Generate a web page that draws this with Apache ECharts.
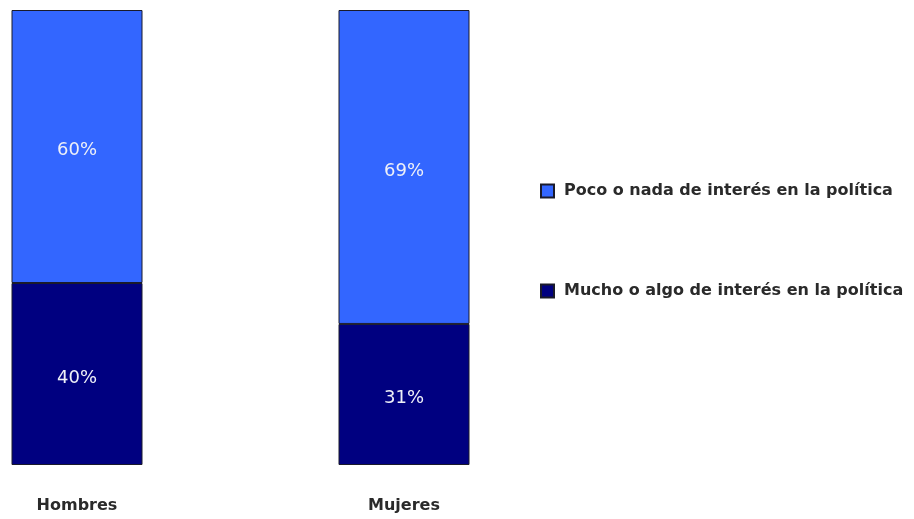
<!DOCTYPE html>
<html><head><meta charset="utf-8">
<script src="https://cdn.jsdelivr.net/npm/echarts@6/dist/echarts.min.js"></script>
<style>html,body{margin:0;padding:0;background:#fff}#c{width:914px;height:519px}</style>
</head><body><div id="c"></div>
<script>
const categories = ["Hombres", "Mujeres"];
const muchoValues = [40, 31];
const pocoValues = [60, 69];
const seriesNames = ["Mucho o algo de interés en la política", "Poco o nada de interés en la política"];
const legendOrder = [seriesNames[1], seriesNames[0]];

const chart = echarts.init(document.getElementById('c'));
const FONT = "DejaVu Sans";
const lbl = {show: true, position: 'inside', color: '#eef0f8', fontSize: 18, fontFamily: FONT, fontWeight: 'normal', formatter: '{c}%', offset: [0, 4]};
chart.setOption({
  animation: false,
  textStyle: {fontFamily: FONT},
  grid: {left: 77, width: 327, top: 10, bottom: 54},
  legend: {
    data: legendOrder, orient: 'vertical', left: 535, top: 178, itemGap: 84,
    itemWidth: 13, itemHeight: 13, icon: 'rect',
    textStyle: {fontSize: 16, color: '#2a2a2a', fontFamily: FONT, fontWeight: 'bold', padding: [0, 0, 0, 5]}
  },
  xAxis: {type: 'category', data: categories, boundaryGap: false, axisLine: {show: false}, axisTick: {show: false},
    axisLabel: {fontSize: 16, color: '#2a2a2a', margin: 33, fontFamily: FONT, fontWeight: 'bold'}},
  yAxis: {type: 'value', min: 0, max: 100, show: false},
  series: [
    {name: seriesNames[0], type: 'bar', stack: 's', data: muchoValues, barWidth: 131, clip: false,
     itemStyle: {color: '#000080', borderColor: '#1a1a2a', borderWidth: 1}, label: lbl},
    {name: seriesNames[1], type: 'bar', stack: 's', data: pocoValues, barWidth: 131, clip: false,
     itemStyle: {color: '#3366ff', borderColor: '#1a1a2a', borderWidth: 1}, label: lbl}
  ]
});
</script></body></html>
